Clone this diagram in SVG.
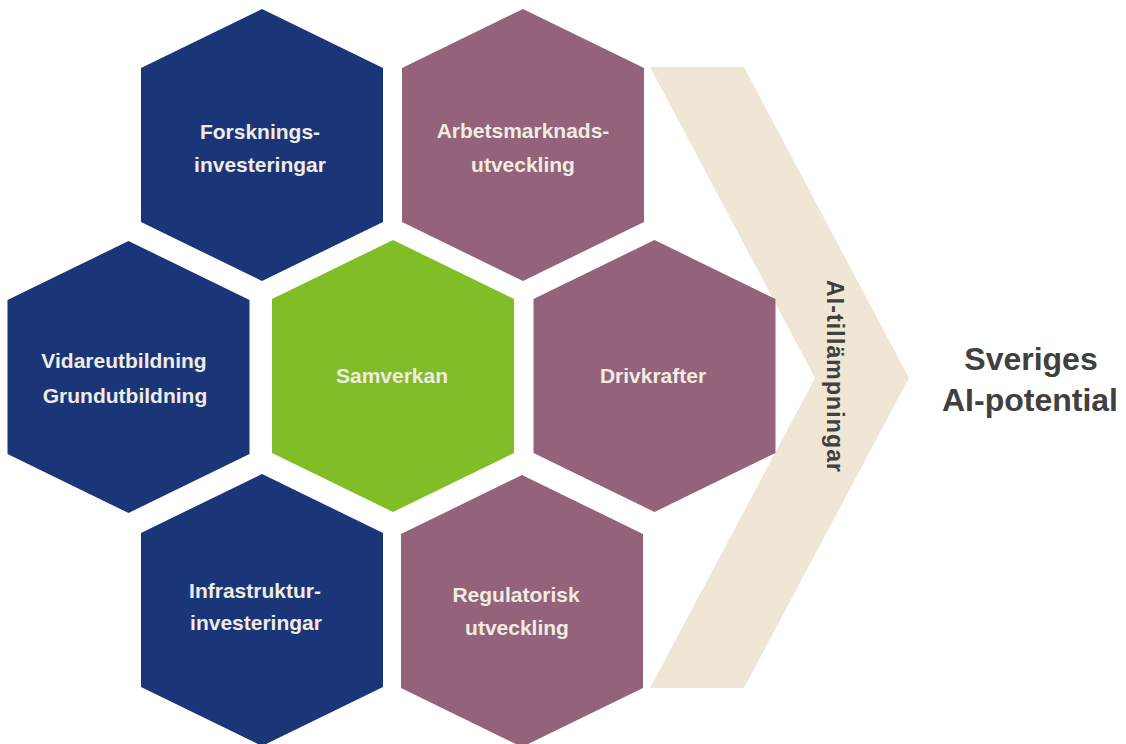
<svg xmlns="http://www.w3.org/2000/svg" xmlns:xlink="http://www.w3.org/1999/xlink" width="1126" height="744" viewBox="0 0 1126 744">
  <style>
    .navy { fill: #1a3678; }
    .mauve { fill: #94637b; }
    .green { fill: #80bd27; }
    .lbl { font-family: "Liberation Sans", Arial, sans-serif; font-weight: bold; font-size: 21px; fill: #f0ece2; text-anchor: middle; }
    .dark { font-family: "Liberation Sans", Arial, sans-serif; font-weight: bold; fill: #404040; text-anchor: middle; }
  </style>
  <defs>
    <!-- pointy-top hexagon centred on the origin -->
    <polygon id="hex" points="0,-136 121,-77 121,77 0,136 -121,77 -121,-77"/>
  </defs>

  <rect width="1126" height="744" fill="#ffffff"/>

  <!-- chevron band behind the right column -->
  <g id="chevron">
    <polygon points="650,67 744,67 909,378 744,688 650,688 815,378" fill="#f0e6d5"/>
    <text class="dark" font-size="23" transform="translate(827,376) rotate(90)" textLength="192" lengthAdjust="spacing">AI-tillämpningar</text>
  </g>

  <g id="connectors"></g>

  <g id="forskning">
    <use xlink:href="#hex" href="#hex" x="262" y="145" class="navy"/>
    <text class="lbl" x="260" y="139">Forsknings-</text>
    <text class="lbl" x="260" y="172">investeringar</text>
  </g>

  <g id="arbetsmarknad">
    <use xlink:href="#hex" href="#hex" x="523" y="145" class="mauve"/>
    <text class="lbl" x="523" y="138">Arbetsmarknads-</text>
    <text class="lbl" x="523" y="172">utveckling</text>
  </g>

  <g id="utbildning">
    <use xlink:href="#hex" href="#hex" x="128.5" y="377" class="navy"/>
    <text class="lbl" x="124" y="368">Vidareutbildning</text>
    <text class="lbl" x="125" y="403">Grundutbildning</text>
  </g>

  <g id="samverkan">
    <use xlink:href="#hex" href="#hex" x="393" y="376" class="green"/>
    <text class="lbl" x="392" y="383">Samverkan</text>
  </g>

  <g id="drivkrafter">
    <use xlink:href="#hex" href="#hex" x="654.5" y="376" class="mauve"/>
    <text class="lbl" x="653" y="383">Drivkrafter</text>
  </g>

  <g id="infrastruktur">
    <use xlink:href="#hex" href="#hex" x="262" y="610" class="navy"/>
    <text class="lbl" x="255" y="598">Infrastruktur-</text>
    <text class="lbl" x="256" y="630">investeringar</text>
  </g>

  <g id="regulatorisk">
    <use xlink:href="#hex" href="#hex" x="522" y="611" class="mauve"/>
    <text class="lbl" x="516" y="602">Regulatorisk</text>
    <text class="lbl" x="517" y="635">utveckling</text>
  </g>

  <g id="potential">
    <text class="dark" font-size="32" x="1031" y="370">Sveriges</text>
    <text class="dark" font-size="32" x="1030" y="411">AI-potential</text>
  </g>
</svg>
